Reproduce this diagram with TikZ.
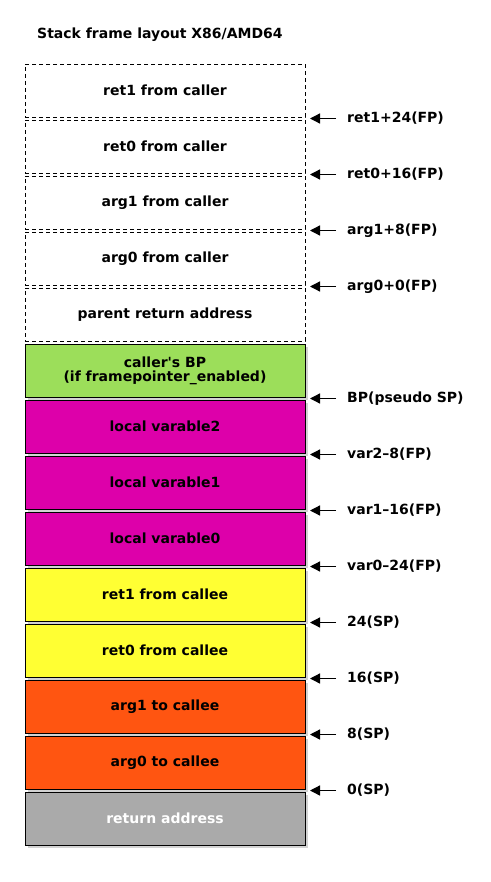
\documentclass[tikz,border=0pt]{standalone}
\usepackage{fontspec}
\setmainfont{DejaVu Sans}
\usetikzlibrary{positioning}
\usetikzlibrary{shadows}
\usetikzlibrary{arrows.meta}

\definecolor{bpgreen}{HTML}{9CDE5A}
\definecolor{varmag}{HTML}{DD00AA}
\definecolor{retyel}{HTML}{FFFF33}
\definecolor{argora}{HTML}{FF5511}
\definecolor{addrgray}{HTML}{AAAAAA}

\begin{document}
\begin{tikzpicture}[x=1pt,y=-1pt,node distance=3pt,
  every node/.style={font=\fontsize{14}{14}\selectfont\bfseries},
  slot/.style={draw,minimum width=280pt,minimum height=53pt,inner sep=0pt,outer sep=0pt,align=center},
  callerslot/.style={slot,dash pattern=on 4pt off 3pt},
  frameslot/.style={slot,line width=0.9pt,fill=#1,drop shadow={shadow xshift=3pt,shadow yshift=-3pt,fill=black!35}},
  offs/.style={inner sep=0pt,anchor=west},
  ptr/.style={-{Triangle[length=10pt,width=10pt]},line width=1.3pt,shorten <=11pt}]
  \useasboundingbox (0,0) rectangle (490,882);
  \node[inner sep=0pt,anchor=west] (title) at (37,35) {Stack frame layout X86/AMD64};
  \node[callerslot] (ret1c) at (165,90.5) {ret1 from caller};
  \node[callerslot,below=of ret1c] (ret0c) {ret0 from caller};
  \node[callerslot,below=of ret0c] (arg1c) {arg1 from caller};
  \node[callerslot,below=of arg1c] (arg0c) {arg0 from caller};
  \node[callerslot,below=of arg0c] (parent) {parent return address};
  \node[frameslot=bpgreen,below=of parent] (bp) {caller\textquotesingle s BP\\(if framepointer\_enabled)};
  \node[frameslot=varmag,below=of bp] (var2) {local varable2};
  \node[frameslot=varmag,below=of var2] (var1) {local varable1};
  \node[frameslot=varmag,below=of var1] (var0) {local varable0};
  \node[frameslot=retyel,below=of var0] (ret1e) {ret1 from callee};
  \node[frameslot=retyel,below=of ret1e] (ret0e) {ret0 from callee};
  \node[frameslot=argora,below=of ret0e] (arg1e) {arg1 to callee};
  \node[frameslot=argora,below=of arg1e] (arg0e) {arg0 to callee};
  \node[frameslot=addrgray,below=of arg0e,text=white] (raddr) {return address};
  \foreach \b/\n/\t in {ret1c/a/{ret1+24(FP)},ret0c/b/{ret0+16(FP)},arg1c/c/{arg1+8(FP)},
      arg0c/d/{arg0+0(FP)},bp/e/{BP(pseudo SP)},var2/f/{var2--8(FP)},var1/g/{var1--16(FP)},
      var0/h/{var0--24(FP)},ret1e/i/{24(SP)},ret0e/j/{16(SP)},arg1e/k/{8(SP)},arg0e/l/{0(SP)}}{
    \coordinate[right=5pt of \b.south east,yshift=-1.5pt] (gap\n);
    \node[offs,right=37pt of gap\n] (off\n) {\t};
    \draw[ptr] (off\n.west) -- (gap\n);
  }
\end{tikzpicture}
\end{document}
